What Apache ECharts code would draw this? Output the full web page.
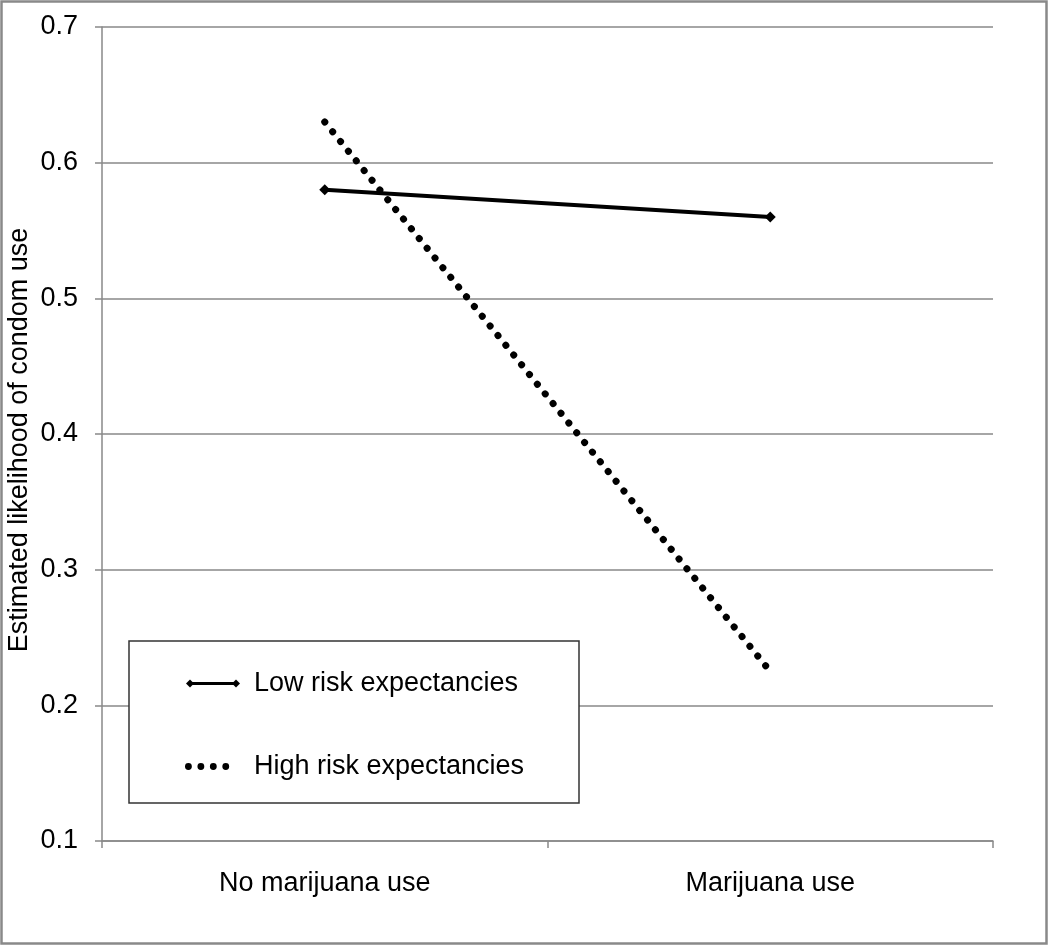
<!DOCTYPE html>
<html>
<head>
<meta charset="utf-8">
<title>Estimated likelihood of condom use</title>
<script src="https://cdn.jsdelivr.net/npm/echarts@6/dist/echarts.min.js"></script>
<style>
  html, body { margin: 0; padding: 0; background: #fff; }
  #chart { width: 1050px; height: 946px; }
</style>
</head>
<body>
<div id="chart"></div>
<script>
// categories on the x axis
var categories = ['No marijuana use', 'Marijuana use'];
// estimated likelihood values
var lowRisk = [0.58, 0.56];
var highRisk = [0.63, 0.225];
// y axis range / ticks
var yMin = 0.1;
var yMax = 0.7;
var yStep = 0.1;
var yTitle = 'Estimated likelihood of condom use';

var FONT = '"Liberation Sans", Arial, Helvetica, sans-serif';
var FONT_SIZE = 27;
var AXIS_GRAY = '#898989';

var chart = echarts.init(document.getElementById('chart'), null, { renderer: 'canvas' });

chart.setOption({
  animation: false,
  backgroundColor: '#fff',
  textStyle: { fontFamily: FONT, color: '#000' },
  grid: {
    left: 102,
    right: 57,
    top: 27,
    bottom: 105,
    containLabel: false
  },
  graphic: [
    {
      // outer frame round the whole chart
      type: 'rect',
      shape: { x: 1.5, y: 1.5, width: 1045, height: 942 },
      style: { fill: null, stroke: AXIS_GRAY, lineWidth: 2.5 },
      silent: true
    },
    {
      // y axis title, rotated
      type: 'text',
      x: 20,
      y: 440,
      rotation: Math.PI / 2,
      style: {
        text: yTitle,
        font: FONT_SIZE + 'px ' + FONT,
        fill: '#000',
        align: 'center',
        verticalAlign: 'middle'
      },
      silent: true
    },
    {
      // legend box
      type: 'rect',
      z: 10,
      shape: { x: 129, y: 641, width: 450, height: 162 },
      style: { fill: '#fff', stroke: '#333', lineWidth: 1.5 },
      silent: true
    }
  ],
  legend: {
    orient: 'vertical',
    left: 180,
    top: 665,
    z: 20,
    itemGap: 56,
    itemWidth: 56,
    itemHeight: 8,
    textStyle: { fontSize: FONT_SIZE, fontFamily: FONT, color: '#000', padding: [0, 0, 0, 8] },
    data: [
      {
        name: 'Low risk expectancies',
        icon: 'path://M0,4L4,0L8,4L4,8ZM4,2.4L50,2.4L50,5.6L4,5.6ZM46,4L50,0L54,4L50,8Z',
        itemStyle: { color: '#000' }
      },
      {
        name: 'High risk expectancies',
        icon: 'path://M0,4A3.3,3.3,0,1,1,6.6,4A3.3,3.3,0,1,1,0,4ZM12,4A3.3,3.3,0,1,1,18.6,4A3.3,3.3,0,1,1,12,4ZM24,4A3.3,3.3,0,1,1,30.6,4A3.3,3.3,0,1,1,24,4ZM36,4A3.3,3.3,0,1,1,42.6,4A3.3,3.3,0,1,1,36,4ZM54,4L54,4Z',
        itemStyle: { color: '#000' }
      }
    ]
  },
  xAxis: {
    type: 'category',
    data: categories,
    boundaryGap: true,
    axisLine: { lineStyle: { color: AXIS_GRAY, width: 1.5 } },
    axisTick: { show: true, length: 7, lineStyle: { color: AXIS_GRAY, width: 1.5 } },
    axisLabel: { fontSize: FONT_SIZE, color: '#000', margin: 29, fontFamily: FONT },
    splitLine: { show: false }
  },
  yAxis: {
    type: 'value',
    min: yMin,
    max: yMax,
    interval: yStep,
    axisLine: { show: true, lineStyle: { color: AXIS_GRAY, width: 1.5 } },
    axisTick: { show: true, length: 7, lineStyle: { color: AXIS_GRAY, width: 1.5 } },
    axisLabel: {
      fontSize: FONT_SIZE,
      color: '#000',
      margin: 24,
      fontFamily: FONT,
      formatter: function (v) { return v.toFixed(1); }
    },
    splitLine: { show: true, lineStyle: { color: AXIS_GRAY, width: 1.5 } }
  },
  series: [
    {
      name: 'Low risk expectancies',
      type: 'line',
      data: lowRisk,
      symbol: 'diamond',
      symbolSize: 11,
      showSymbol: true,
      itemStyle: { color: '#000' },
      lineStyle: { color: '#000', width: 4 },
      z: 3
    },
    {
      name: 'High risk expectancies',
      type: 'line',
      data: highRisk,
      symbol: 'none',
      itemStyle: { color: '#000' },
      lineStyle: { color: '#000', width: 7, type: [0.1, 12.4], cap: 'round' },
      z: 3
    }
  ]
});
</script>
</body>
</html>
